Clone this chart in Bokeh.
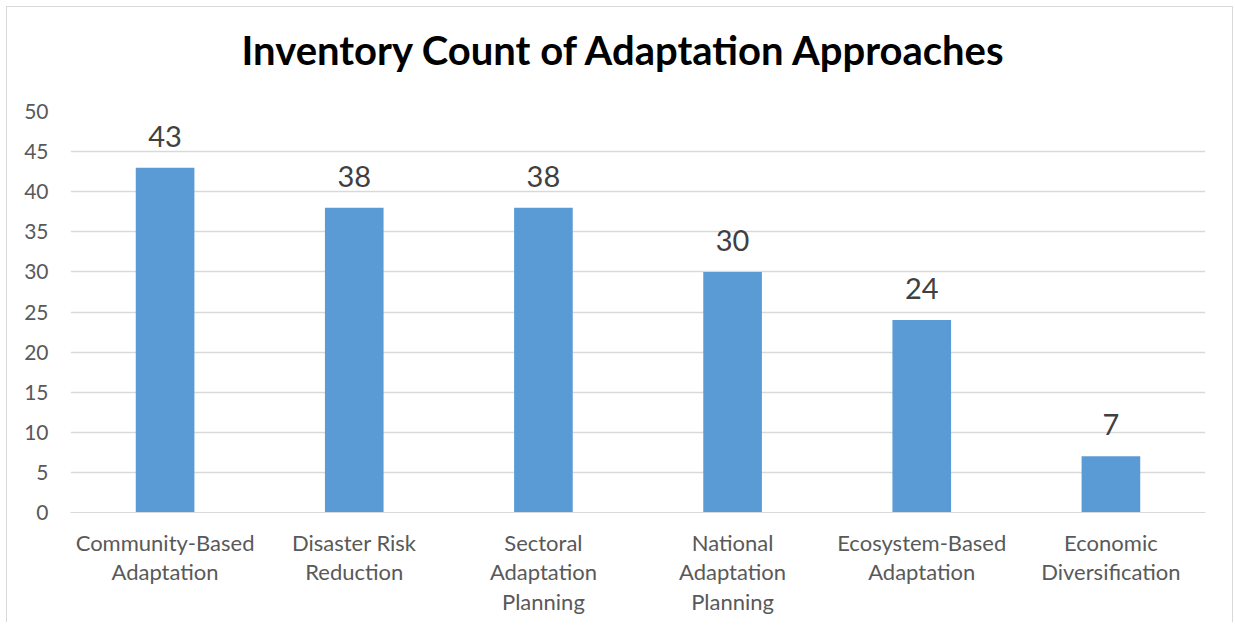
from bokeh.plotting import figure
from bokeh.models import ColumnDataSource, LabelSet, FactorRange, Title
from bokeh.core.properties import value
from bokeh.embed import file_html
from bokeh.resources import INLINE

title_text = "Inventory Count of Adaptation Approaches"
categories = ["Community-Based\nAdaptation", "Disaster Risk\nReduction",
              "Sectoral\nAdaptation\nPlanning", "National\nAdaptation\nPlanning",
              "Ecosystem-Based\nAdaptation", "Economic\nDiversification"]
counts = [43, 38, 38, 30, 24, 7]
y_ticks = [0, 5, 10, 15, 20, 25, 30, 35, 40, 45, 50]

FONT = "Lato"
src = ColumnDataSource(dict(cat=categories, val=counts, lbl=[str(v) for v in counts]))

p = figure(frame_width=1135, frame_height=401,
           x_range=FactorRange(*categories, range_padding=0),
           y_range=(0, 50), output_backend="svg", toolbar_location=None,
           min_border_left=63, min_border_right=27, min_border_top=104, min_border_bottom=110)
p.styles = {"margin-left": "6px", "margin-top": "6px",
            "border-top": "1px solid #D9D9D9", "border-left": "1px solid #D9D9D9",
            "border-right": "1px solid #D9D9D9"}
p.outline_line_color = None
p.vbar(x="cat", top="val", width=0.31, source=src, color="#5B9BD5", line_color=None)

p.add_layout(LabelSet(x="cat", y="val", text="lbl", source=src, text_align="center",
                      text_baseline="bottom", y_offset=21, text_font=value(FONT),
                      text_font_size="29px", text_color="#404040"))

# blank spacer between the title and the plot area
p.add_layout(Title(text=" ", text_font_size="20px", standoff=14), "above")
p.add_layout(Title(text=title_text, align="left", offset=171, standoff=0,
                   text_font=FONT, text_font_size="40px", text_font_style="bold",
                   text_color="#000000"), "above")

p.yaxis.ticker = y_ticks
p.yaxis.axis_line_color = None
p.yaxis.major_tick_line_color = None
p.yaxis.minor_tick_line_color = None
p.yaxis.major_tick_out = 0
p.yaxis.major_label_standoff = 22
p.yaxis.major_label_text_font = FONT
p.yaxis.major_label_text_font_size = "21px"
p.yaxis.major_label_text_color = "#595959"

p.xaxis.axis_line_color = "#D9D9D9"
p.xaxis.major_tick_line_color = None
p.xaxis.major_tick_out = 0
p.xaxis.major_label_standoff = 16
p.xaxis.major_label_text_font = FONT
p.xaxis.major_label_text_font_size = "22px"
p.xaxis.major_label_text_color = "#595959"
p.xaxis.major_label_text_line_height = 1.1

p.xgrid.grid_line_color = None
p.ygrid.grid_line_color = "#D9D9D9"
p.ygrid.grid_line_width = 1.3

open("out.html", "w").write(file_html(p, INLINE))
